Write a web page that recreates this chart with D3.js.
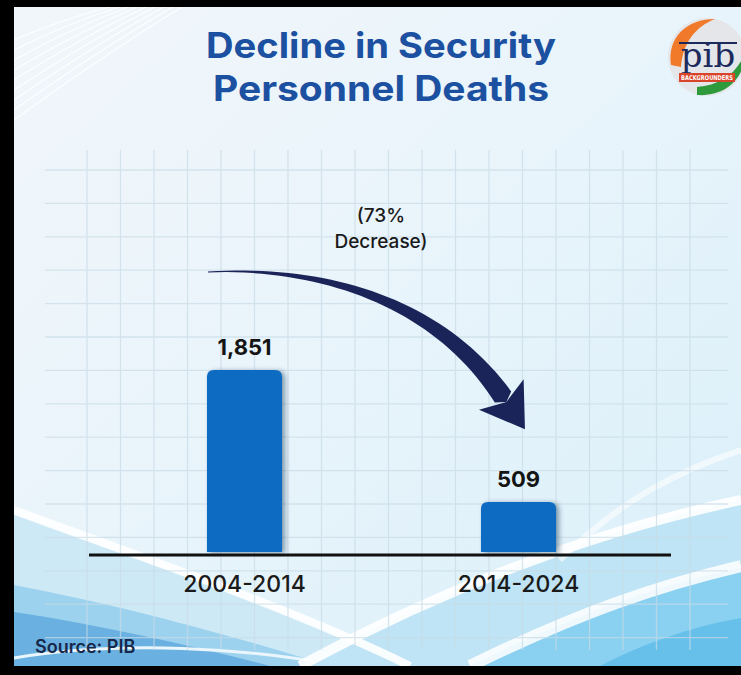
<!DOCTYPE html>
<html>
<head>
<meta charset="utf-8">
<script src="https://cdn.jsdelivr.net/npm/d3@7"></script>
<style>
  html, body { margin: 0; padding: 0; background: #000; }
  svg { display: block; }
</style>
</head>
<body>
<svg id="chart"></svg>
<script>
// data
const categories = ['2004-2014', '2014-2024']
const deaths = [1851, 509]
const decreaseLines = ['(73%', 'Decrease)']
const titleLines = ['Decline in Security', 'Personnel Deaths']
const titleWidths = [350, 336]
const sourceText = 'Source: PIB'

const width = 741
const height = 675

let svg = d3.select('#chart').attr('width', width).attr('height', height)
let defs = svg.append('defs')

// background gradient
let bg = defs.append('linearGradient').attr('id', 'bg')
    .attr('x1', 0).attr('y1', 0).attr('x2', 1).attr('y2', 1)
bg.append('stop').attr('offset', 0).attr('stop-color', '#f1f6fa')
bg.append('stop').attr('offset', 0.5).attr('stop-color', '#e8f4fb')
bg.append('stop').attr('offset', 1).attr('stop-color', '#d9eff9')

defs.append('clipPath').attr('id', 'inner')
    .append('rect').attr('x', 14).attr('y', 7).attr('width', width - 14).attr('height', 659)

let shadow = defs.append('filter').attr('id', 'shadow')
    .attr('x', -0.2).attr('y', -0.2).attr('width', 1.5).attr('height', 1.4)
shadow.append('feDropShadow').attr('dx', 3).attr('dy', 1).attr('stdDeviation', 2.5)
    .attr('flood-color', '#0a2a50').attr('flood-opacity', 0.45)

// black frame
svg.append('rect').attr('width', width).attr('height', height).attr('fill', '#000')

let g = svg.append('g').attr('clip-path', 'url(#inner)')
g.append('rect').attr('x', 14).attr('y', 7).attr('width', width - 14).attr('height', 659)
    .attr('fill', 'url(#bg)')

// faint diagonal lines top left
let diag = g.append('g').attr('fill', 'none').attr('stroke', '#ffffff').attr('stroke-width', 1.2).attr('opacity', 0.9)
d3.range(9).forEach(i => {
    diag.append('path').attr('d', `M14,${40 + i * 10} Q ${60 + i * 6},${20 + i * 4} ${110 + i * 9},7`)
})

// waves at the bottom
let waves = g.append('g')
waves.append('path').attr('fill', '#cde9f6')
    .attr('d', 'M14,515 C150,565 300,615 410,666 L14,666 Z')
waves.append('path').attr('fill', '#9dd2ef')
    .attr('d', 'M14,585 C120,605 230,635 330,666 L14,666 Z')
waves.append('path').attr('fill', '#6ab1e1')
    .attr('d', 'M14,612 C100,625 190,645 270,666 L14,666 Z')
waves.append('path').attr('fill', 'none').attr('stroke', '#eaf6fc').attr('stroke-width', 3)
    .attr('d', 'M14,658 C120,640 250,648 340,666')
waves.append('path').attr('fill', '#bfe4f5')
    .attr('d', 'M300,666 C450,585 600,530 741,500 L741,666 Z')
waves.append('path').attr('fill', '#8ad0f0')
    .attr('d', 'M470,666 C580,612 660,585 741,568 L741,666 Z')
waves.append('path').attr('fill', '#66c0ea')
    .attr('d', 'M600,666 C650,640 700,625 741,618 L741,666 Z')
waves.append('path').attr('fill', 'none').attr('stroke', '#ffffff').attr('stroke-width', 8).attr('opacity', 0.9)
    .attr('d', 'M14,510 C150,560 300,612 410,666')
waves.append('path').attr('fill', 'none').attr('stroke', '#ffffff').attr('stroke-width', 10).attr('opacity', 0.9)
    .attr('d', 'M300,666 C450,585 600,530 741,500')
waves.append('path').attr('fill', 'none').attr('stroke', '#ffffff').attr('stroke-width', 12).attr('opacity', 0.85)
    .attr('d', 'M470,666 C580,612 660,585 741,566')
waves.append('path').attr('fill', 'none').attr('stroke', '#ffffff').attr('stroke-width', 6).attr('opacity', 0.6)
    .attr('d', 'M560,560 C620,500 680,470 741,450')

// grid
let grid = g.append('g').attr('stroke', '#c9dbe6').attr('stroke-width', 1.3).attr('opacity', 0.7)
d3.range(19).forEach(i => {
    let x = 87 + i * 33.5
    grid.append('line').attr('x1', x).attr('x2', x).attr('y1', 150).attr('y2', 650)
})
d3.range(15).forEach(i => {
    let y = 170 + i * 33.4
    grid.append('line').attr('x1', 45).attr('x2', 728).attr('y1', y).attr('y2', y)
})

// scales
let x = d3.scaleBand().domain(categories).range([107.5, 655.5])
    .paddingInner(0.726).paddingOuter(0.363)
let y = d3.scaleLinear().domain([0, 1851]).range([552, 370])

function barPath(x0, y0, w, h, r) {
    return `M${x0},${y0 + h} V${y0 + r} Q${x0},${y0} ${x0 + r},${y0} H${x0 + w - r} Q${x0 + w},${y0} ${x0 + w},${y0 + r} V${y0 + h} Z`
}

let bars = g.append('g')
bars.selectAll('path').data(deaths).enter().append('path')
    .attr('d', (d, i) => barPath(x(categories[i]), y(d), x.bandwidth(), y(0) - y(d), 7))
    .attr('fill', '#0b6cc1')
    .attr('filter', 'url(#shadow)')

// value labels
let fmt = d3.format(',')
g.append('g').selectAll('text').data(deaths).enter().append('text')
    .attr('x', (d, i) => x(categories[i]) + x.bandwidth() / 2)
    .attr('y', d => y(d) - 15)
    .attr('text-anchor', 'middle')
    .attr('font-family', 'Inter, "Open Sans", sans-serif')
    .attr('font-weight', 700)
    .attr('font-size', 22)
    .attr('fill', '#141414')
    .text(d => fmt(d))

// baseline
g.append('line').attr('x1', 89).attr('x2', 671).attr('y1', y(0) + 3).attr('y2', y(0) + 3)
    .attr('stroke', '#111').attr('stroke-width', 3)

// category labels
g.append('g').selectAll('text').data(categories).enter().append('text')
    .attr('x', d => x(d) + x.bandwidth() / 2)
    .attr('y', 592)
    .attr('text-anchor', 'middle')
    .attr('font-family', 'Inter, "Open Sans", sans-serif')
    .attr('font-weight', 500)
    .attr('font-size', 23)
    .attr('fill', '#1a1a1a')
    .text(d => d)

// curved tapering arrow
let S = [208, 272], C1 = [330, 266], C2 = [441, 306], E = [503, 397]
function bez(t) {
    let u = 1 - t
    return [
        u * u * u * S[0] + 3 * u * u * t * C1[0] + 3 * u * t * t * C2[0] + t * t * t * E[0],
        u * u * u * S[1] + 3 * u * u * t * C1[1] + 3 * u * t * t * C2[1] + t * t * t * E[1]
    ]
}
function bezD(t) {
    let u = 1 - t
    let dx = 3 * u * u * (C1[0] - S[0]) + 6 * u * t * (C2[0] - C1[0]) + 3 * t * t * (E[0] - C2[0])
    let dy = 3 * u * u * (C1[1] - S[1]) + 6 * u * t * (C2[1] - C1[1]) + 3 * t * t * (E[1] - C2[1])
    let l = Math.hypot(dx, dy)
    return [dx / l, dy / l]
}
let left = [], right = []
d3.range(0, 1.0001, 0.025).forEach(t => {
    let p = bez(t), d = bezD(t)
    let hw = 0.4 + 9.5 * Math.pow(t, 1.2)
    left.push([p[0] - d[1] * hw, p[1] + d[0] * hw])
    right.push([p[0] + d[1] * hw, p[1] - d[0] * hw])
})
let dEnd = bezD(1)
let n = [-dEnd[1], dEnd[0]]
let tip = [E[0] + dEnd[0] * 39, E[1] + dEnd[1] * 39]
let notch = [E[0] + dEnd[0] * 6, E[1] + dEnd[1] * 6]
let barb1 = [E[0] + n[0] * 27 - dEnd[0] * 3, E[1] + n[1] * 27 - dEnd[1] * 3]
let barb2 = [E[0] - n[0] * 27 - dEnd[0] * 3, E[1] - n[1] * 27 - dEnd[1] * 3]

let shaft = left.concat([notch]).concat(right.slice().reverse())
g.append('path').attr('d', d3.line()(shaft) + 'Z').attr('fill', '#1b2459')
g.append('path').attr('d', d3.line()([barb1, tip, barb2, notch]) + 'Z').attr('fill', '#1b2459')

// decrease note (one text, two lines)
let note = g.append('text')
    .attr('text-anchor', 'middle')
    .attr('font-family', 'Inter, "Open Sans", sans-serif')
    .attr('font-weight', 500)
    .attr('font-size', 19)
    .attr('fill', '#1a1a1a')
note.selectAll('tspan').data(decreaseLines).enter().append('tspan')
    .attr('x', 381)
    .attr('y', (d, i) => 222 + i * 26)
    .text(d => d)

// title
g.append('g').selectAll('text').data(titleLines).enter().append('text')
    .attr('x', 381)
    .attr('y', (d, i) => 58 + i * 43)
    .attr('text-anchor', 'middle')
    .attr('textLength', (d, i) => titleWidths[i])
    .attr('lengthAdjust', 'spacingAndGlyphs')
    .attr('font-family', 'Inter, "Open Sans", sans-serif')
    .attr('font-weight', 700)
    .attr('font-size', 35)
    .attr('fill', '#1c50a0')
    .text(d => d)

// source
g.append('text').attr('x', 35).attr('y', 653)
    .attr('font-family', 'Inter, "Open Sans", sans-serif')
    .attr('font-weight', 600)
    .attr('font-size', 18)
    .attr('fill', '#17284a')
    .text(sourceText)

// pib logo
let logo = g.append('g').attr('transform', 'translate(707,57)')
logo.append('circle').attr('r', 39).attr('fill', '#e4e6ea')
logo.append('path').attr('fill', '#f07a2a')
    .attr('d', 'M-36,8 C-40,-20 -20,-38 8,-38 C-12,-30 -24,-14 -26,10 Z')
logo.append('path').attr('fill', '#2f9a3c')
    .attr('d', 'M-10,38 C20,40 38,20 38,-4 C30,16 14,28 -10,30 Z')
logo.append('line').attr('x1', -28).attr('x2', 30).attr('y1', -14).attr('y2', -14)
    .attr('stroke', '#1d2a5c').attr('stroke-width', 2)
logo.append('text').attr('x', 1).attr('y', 10).attr('text-anchor', 'middle')
    .attr('font-family', '"DejaVu Serif", serif').attr('font-size', 34)
    .attr('fill', '#1d2a5c').text('pib')
logo.append('rect').attr('x', -28).attr('y', 16).attr('width', 56).attr('height', 9).attr('fill', '#d9452b')
logo.append('text').attr('x', -26).attr('y', 23)
    .attr('textLength', 52).attr('lengthAdjust', 'spacingAndGlyphs')
    .attr('font-family', '"DejaVu Sans Condensed", sans-serif').attr('font-weight', 700)
    .attr('font-size', 6.5).attr('fill', '#ffffff').text('BACKGROUNDERS')
</script>
</body>
</html>
